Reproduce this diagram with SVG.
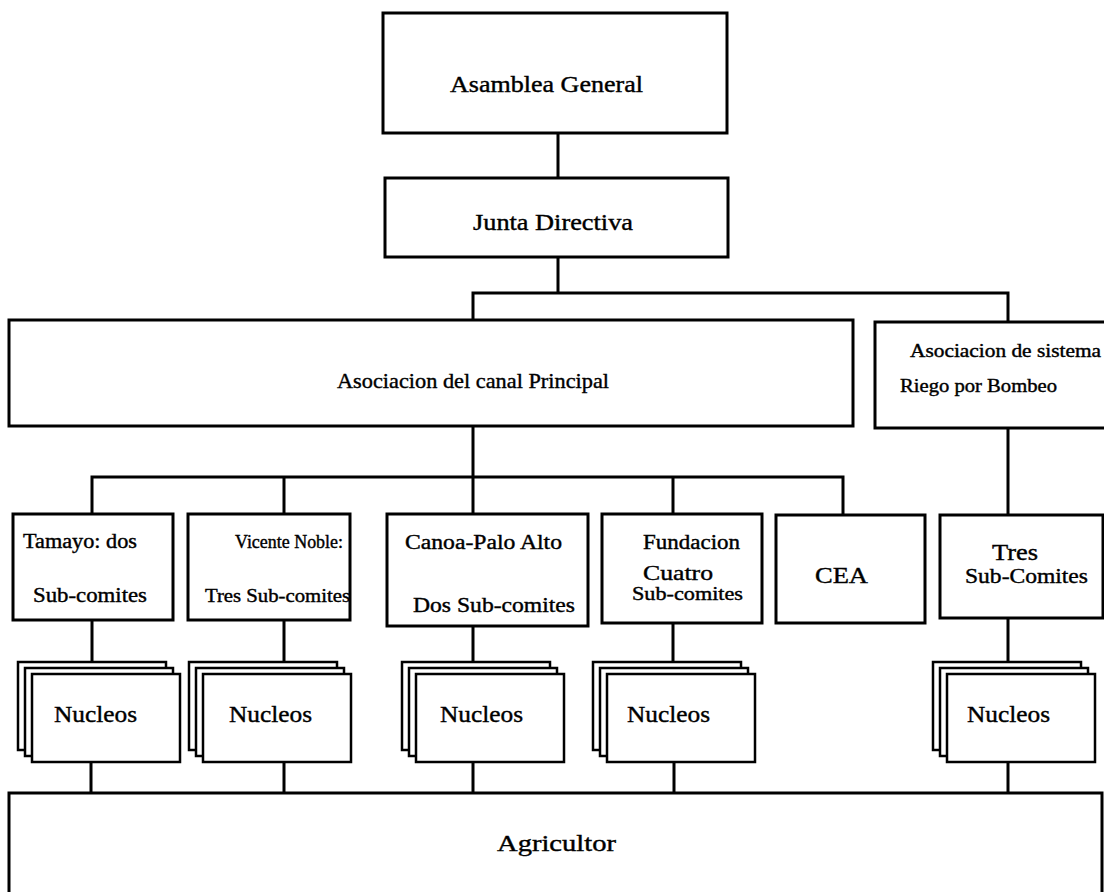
<svg xmlns="http://www.w3.org/2000/svg" width="1104" height="892" viewBox="0 0 1104 892">
<style>
.box{fill:#fff;stroke:#000;stroke-width:3}
.card{fill:#fff;stroke:#000;stroke-width:2.5}
.ln{fill:none;stroke:#000;stroke-width:3;stroke-linecap:square}
text{font-family:"Liberation Serif","Times New Roman",serif;fill:#000;stroke:#000;stroke-width:0.4}
</style>
<rect width="1104" height="892" fill="#fff"/>
<g id="connectors">
<path class="ln" d="M558 133V178M558 257V293M473 293H1008M473 293V320M1008 293V322"/>
<path class="ln" d="M473 426V477M92 477H843M92 477V514M284 477V514M473 477V514M673 477V514M843 477V515M1008 428V515"/>
<path class="ln" d="M92 620V662M284 620V662M473 626V662M673 623V662M1008 618V662"/>
<path class="ln" d="M91 762V793M284 762V793M473 762V793M674 762V793M1008 762V793"/>
</g>
<g id="asamblea">
<rect class="box" x="383" y="13" width="344" height="120"/>
<text x="450" y="92" font-size="23" textLength="193" lengthAdjust="spacingAndGlyphs">Asamblea General</text>
</g>
<g id="junta">
<rect class="box" x="385" y="178" width="343" height="79"/>
<text x="473" y="230" font-size="23" textLength="160" lengthAdjust="spacingAndGlyphs">Junta Directiva</text>
</g>
<g id="canal">
<rect class="box" x="9" y="320" width="844" height="106"/>
<text x="337" y="388" font-size="22" textLength="272" lengthAdjust="spacingAndGlyphs">Asociacion del canal Principal</text>
</g>
<g id="sistema">
<rect class="box" x="875" y="322" width="240" height="106"/>
<text x="910" y="357" font-size="18" textLength="191" lengthAdjust="spacingAndGlyphs">Asociacion de sistema</text>
<text x="900" y="392" font-size="18" textLength="157" lengthAdjust="spacingAndGlyphs">Riego por Bombeo</text>
</g>
<g id="tamayo">
<rect class="box" x="13" y="514" width="160" height="106"/>
<text x="23" y="548" font-size="20" textLength="114" lengthAdjust="spacingAndGlyphs">Tamayo: dos</text>
<text x="33" y="602" font-size="20" textLength="114" lengthAdjust="spacingAndGlyphs">Sub-comites</text>
</g>
<g id="vicente">
<rect class="box" x="188" y="514" width="162" height="106"/>
<text x="235" y="548" font-size="18" textLength="108" lengthAdjust="spacingAndGlyphs">Vicente Noble:</text>
<text x="205" y="602" font-size="18" textLength="145" lengthAdjust="spacingAndGlyphs">Tres Sub-comites</text>
</g>
<g id="canoa">
<rect class="box" x="387" y="514" width="201" height="112"/>
<text x="405" y="549" font-size="20" textLength="157" lengthAdjust="spacingAndGlyphs">Canoa-Palo Alto</text>
<text x="413" y="612" font-size="21" textLength="162" lengthAdjust="spacingAndGlyphs">Dos Sub-comites</text>
</g>
<g id="fundacion">
<rect class="box" x="602" y="514" width="160" height="109"/>
<text x="643" y="549" font-size="20" textLength="97" lengthAdjust="spacingAndGlyphs">Fundacion</text>
<text x="643" y="580" font-size="22" textLength="70" lengthAdjust="spacingAndGlyphs">Cuatro</text>
<text x="632" y="600" font-size="18" textLength="111" lengthAdjust="spacingAndGlyphs">Sub-comites</text>
</g>
<g id="cea">
<rect class="box" x="776" y="515" width="149" height="108"/>
<text x="815" y="583" font-size="23" textLength="53" lengthAdjust="spacingAndGlyphs">CEA</text>
</g>
<g id="tres">
<rect class="box" x="940" y="515" width="163" height="103"/>
<text x="992" y="560" font-size="23" textLength="46" lengthAdjust="spacingAndGlyphs">Tres</text>
<text x="965" y="583" font-size="21" textLength="123" lengthAdjust="spacingAndGlyphs">Sub-Comites</text>
</g>
<g id="nucleos1">
<rect class="card" x="18" y="662" width="148" height="88"/>
<rect class="card" x="25" y="668" width="148" height="88"/>
<rect class="card" x="32" y="674" width="148" height="88"/>
<text x="54" y="722" font-size="24" textLength="83" lengthAdjust="spacingAndGlyphs">Nucleos</text>
</g>
<g id="nucleos2">
<rect class="card" x="189" y="662" width="148" height="88"/>
<rect class="card" x="196" y="668" width="148" height="88"/>
<rect class="card" x="203" y="674" width="148" height="88"/>
<text x="229" y="722" font-size="24" textLength="83" lengthAdjust="spacingAndGlyphs">Nucleos</text>
</g>
<g id="nucleos3">
<rect class="card" x="402" y="662" width="148" height="88"/>
<rect class="card" x="409" y="668" width="148" height="88"/>
<rect class="card" x="416" y="674" width="148" height="88"/>
<text x="440" y="722" font-size="24" textLength="83" lengthAdjust="spacingAndGlyphs">Nucleos</text>
</g>
<g id="nucleos4">
<rect class="card" x="593" y="662" width="148" height="88"/>
<rect class="card" x="600" y="668" width="148" height="88"/>
<rect class="card" x="607" y="674" width="148" height="88"/>
<text x="627" y="722" font-size="24" textLength="83" lengthAdjust="spacingAndGlyphs">Nucleos</text>
</g>
<g id="nucleos5">
<rect class="card" x="933" y="662" width="148" height="88"/>
<rect class="card" x="940" y="668" width="148" height="88"/>
<rect class="card" x="947" y="674" width="148" height="88"/>
<text x="967" y="722" font-size="24" textLength="83" lengthAdjust="spacingAndGlyphs">Nucleos</text>
</g>
<g id="agricultor">
<rect class="box" x="9" y="793" width="1093" height="110"/>
<text x="497" y="851" font-size="23" textLength="119" lengthAdjust="spacingAndGlyphs">Agricultor</text>
</g>
</svg>
